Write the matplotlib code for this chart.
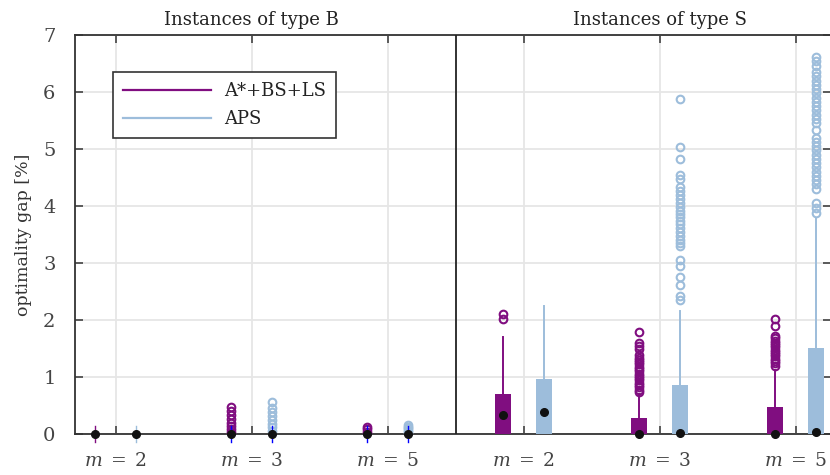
import matplotlib
matplotlib.use("Agg")
import matplotlib.pyplot as plt
from matplotlib.lines import Line2D

plt.rcParams['font.family'] = ['DejaVu Serif']
plt.rcParams['mathtext.fontset'] = 'dejavuserif'

# ---------------- data ----------------
groups = ["B, m=2", "B, m=3", "B, m=5", "S, m=2", "S, m=3", "S, m=5"]
tick_labels = [r"$m\;=\;2$", r"$m\;=\;3$", r"$m\;=\;5$",
               r"$m\;=\;2$", r"$m\;=\;3$", r"$m\;=\;5$"]
panel_titles = ["Instances of type B", "Instances of type S"]
series_names = ["A*+BS+LS", "APS"]

# A*+BS+LS
a_q1 = [0, 0, 0, 0, 0, 0]
a_med = [0, 0, 0, 0.33, 0.0, 0.0]
a_q3 = [0, 0, 0, 0.70, 0.28, 0.47]
a_whislo = [0, 0, 0, 0, 0, 0]
a_whishi = [0, 0, 0, 1.70, 0.70, 1.13]
a_fliers = [
    [],
    [0.47, 0.40, 0.33, 0.27, 0.20, 0.14, 0.08, 0.03],
    [0.13, 0.08, 0.04],
    [2.02, 2.11],
    [1.79, 1.60, 1.55, 1.50, 1.38, 1.34, 1.30, 1.26, 1.22, 1.18, 1.14,
     1.10, 1.06, 1.02, 0.98, 0.94, 0.90, 0.86, 0.82, 0.78, 0.74],
    [2.01, 1.90, 1.72, 1.68, 1.64, 1.60, 1.56, 1.52, 1.48, 1.44, 1.40,
     1.36, 1.32, 1.28, 1.24, 1.20],
]

# APS
b_q1 = [0, 0, 0, 0, 0, 0]
b_med = [0, 0, 0, 0.38, 0.02, 0.03]
b_q3 = [0, 0, 0, 0.96, 0.86, 1.51]
b_whislo = [0, 0, 0, 0, 0, 0]
b_whishi = [0, 0, 0, 2.25, 2.15, 3.79]
b_fliers = [
    [],
    [0.56, 0.45, 0.38, 0.32, 0.25, 0.18, 0.12, 0.06],
    [0.16, 0.13, 0.10, 0.07, 0.04],
    [],
    [5.87, 5.04, 4.83, 4.55, 4.48, 4.33, 4.27, 4.20, 4.12, 4.05, 3.98,
     3.92, 3.86, 3.80, 3.74, 3.68, 3.62, 3.55, 3.48, 3.41, 3.35, 3.30,
     3.05, 2.95, 2.75, 2.62, 2.42, 2.35],
    [6.62, 6.55, 6.45, 6.35, 6.28, 6.20, 6.12, 6.05, 5.98, 5.90, 5.82,
     5.75, 5.68, 5.60, 5.52, 5.45, 5.33, 5.20, 5.12, 5.05, 4.98, 4.90,
     4.82, 4.75, 4.68, 4.60, 4.52, 4.45, 4.38, 4.30, 4.05, 3.96, 3.87],
]

# ---------------- style ----------------
C_A = "#800e80"
C_B = "#9dbddb"
GRID = "#e6e6e6"
SPINE = "#333333"
TXT = "#444444"

fig = plt.figure(figsize=(8.3, 4.75), dpi=100)
ax = fig.add_axes([75 / 830, 41 / 475, 756 / 830, 399 / 475])

positions = list(range(1, len(groups) + 1))
off = 0.15
width = 0.115


def stats(q1, med, q3, lo, hi, fl):
    return [dict(q1=q1[i], med=med[i], q3=q3[i], whislo=lo[i], whishi=hi[i],
                 fliers=fl[i], label=groups[i]) for i in range(len(q1))]


for st, col, sgn in [(stats(a_q1, a_med, a_q3, a_whislo, a_whishi, a_fliers), C_A, -1),
                     (stats(b_q1, b_med, b_q3, b_whislo, b_whishi, b_fliers), C_B, 1)]:
    pos = [p + sgn * off for p in positions]
    bp = ax.bxp(st, positions=pos, widths=width, patch_artist=True,
                showcaps=False, manage_ticks=False,
                boxprops=dict(facecolor=col, edgecolor='none', linewidth=0),
                whiskerprops=dict(color=col, linewidth=1.4),
                medianprops=dict(linewidth=0),
                flierprops=dict(marker='o', markerfacecolor='none',
                                markeredgecolor=col, markersize=5.5,
                                markeredgewidth=1.5))
    for k in ['boxes', 'whiskers', 'fliers']:
        for art in bp[k]:
            art.set_clip_on(False)
            art.set_zorder(3)
    meds = [s['med'] for s in st]
    ax.plot(pos, meds, 'o', color='#111111', markersize=5.5, zorder=5,
            clip_on=False)
    # small vertical marks at zero for the degenerate boxes of panel B
    for i in range(3):
        mcol = col if i == 0 else "#0000ff"
        ax.plot([pos[i], pos[i]], [-0.14, 0.14], color=mcol, lw=1.0,
                zorder=4, clip_on=False)

ax.axvline(3.5, color='#222222', lw=1.3, zorder=4)

ax.set_xlim(0.7, 6.26)
ax.set_ylim(0, 7)
ax.set_xticks(positions)
ax.set_xticklabels(tick_labels)
ax.set_yticks(range(0, 8))
ax.grid(True, color=GRID, linewidth=1.3, zorder=0)
ax.set_axisbelow(True)

for s in ax.spines.values():
    s.set_color(SPINE)
    s.set_linewidth(1.3)

ax.tick_params(axis='both', direction='in', length=6, width=1.1,
               color=SPINE, labelcolor=TXT, top=True, right=True)
ax.tick_params(axis='x', labelsize=13.5, pad=13)
ax.tick_params(axis='y', labelsize=14, pad=14)

ax.set_ylabel("optimality gap [%]", fontsize=12.5, color='#333333', labelpad=8)

for x, t in zip([2, 5], panel_titles):
    ax.text(x, 7.18, t, ha='center', va='baseline', fontsize=13,
            color='#222222', clip_on=False)

handles = [Line2D([], [], color=C_A, lw=1.6), Line2D([], [], color=C_B, lw=1.6)]
leg = ax.legend(handles, series_names, loc='upper left',
                bbox_to_anchor=(0.050, 0.907), fontsize=13, frameon=True,
                fancybox=False, framealpha=1, edgecolor=SPINE,
                handlelength=4.9, handletextpad=0.7, labelspacing=0.55,
                borderpad=0.55, borderaxespad=0)
leg.get_frame().set_linewidth(1.2)
for t in leg.get_texts():
    t.set_color('#222222')

fig.savefig("out.png", dpi=100)
